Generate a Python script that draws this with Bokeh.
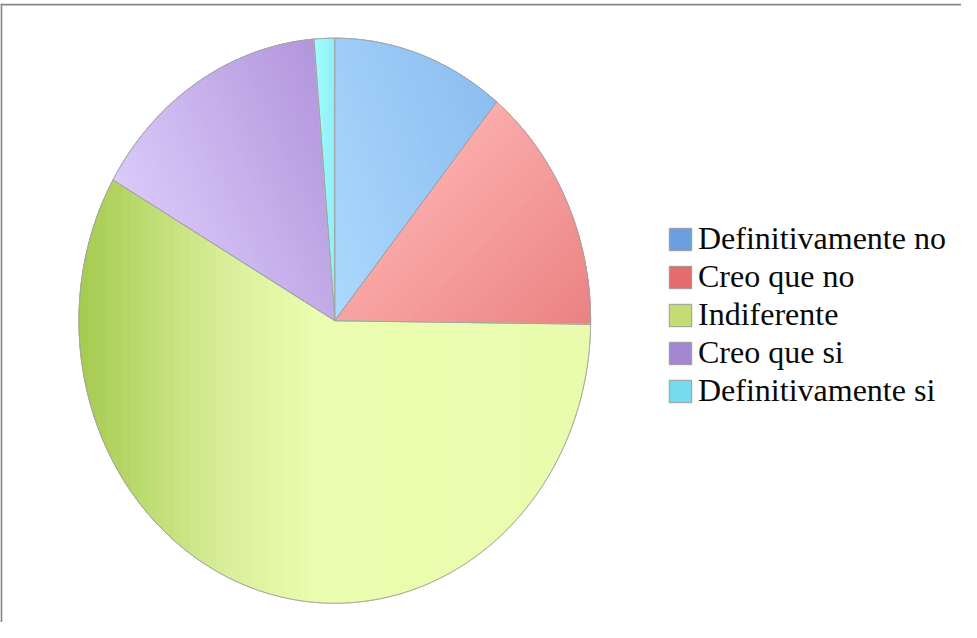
import numpy as np
from bokeh.plotting import figure
from bokeh.models import ColumnDataSource, Range1d, Legend, LegendItem, Span
from bokeh.embed import file_html
from bokeh.resources import INLINE

# ---- data ----
categories = ["Definitivamente no", "Creo que no", "Indiferente", "Creo que si", "Definitivamente si"]
values = [10.9, 14.3, 58.1, 15.4, 1.3]
legend_colors = ["#6b9fe0", "#e46c6c", "#c3dc74", "#a487d2", "#74dcec"]
grad_dirs = [(1.0, -0.35), (0.7, 0.7), (-1.0, 0.0), (1.0, -0.45), (1.0, 0.0)]
grad_stops = [
    [(0.0, "#acd9fd"), (1.0, "#8cbef0")],
    [(0.0, "#fbacac"), (1.0, "#eb8282")],
    [(0.0, "#e9fcae"), (0.54, "#ebfdb0"), (0.72, "#d8ee98"), (1.0, "#a6cb50")],
    [(0.0, "#dccafa"), (1.0, "#b296dc")],
    [(0.0, "#a6fdfd"), (1.0, "#90eef6")],
]

# ---- layout (page-pixel data space) ----
W, H = 961, 622
MBL, MBT = 0, 3
x0p, x1p = 8 + MBL, 8 + W
y0p, y1p = 8 + MBT, 8 + H
cx, cy, rx, ry = 342.3, 328.2, 255.8, 282.5


def hex2rgb(h):
    h = h.lstrip("#")
    return np.array([int(h[i:i + 2], 16) for i in (0, 2, 4)], dtype=float)


def rgb2hex(c):
    c = np.clip(np.round(c), 0, 255).astype(int)
    return "#%02x%02x%02x" % tuple(c)


def interp(stops, t):
    for (ta, ca), (tb, cb) in zip(stops[:-1], stops[1:]):
        if t <= tb:
            f = 0 if tb == ta else (t - ta) / (tb - ta)
            f = min(max(f, 0.0), 1.0)
            return rgb2hex(hex2rgb(ca) * (1 - f) + hex2rgb(cb) * f)
    return stops[-1][1]


def clip(poly, nx, ny, c):
    out = []
    n = len(poly)
    for i in range(n):
        P, Q = poly[i], poly[(i + 1) % n]
        fp = nx * P[0] + ny * P[1] - c
        fq = nx * Q[0] + ny * Q[1] - c
        if fp >= 0:
            out.append(P)
        if (fp >= 0) != (fq >= 0):
            t = fp / (fp - fq)
            out.append((P[0] + t * (Q[0] - P[0]), P[1] + t * (Q[1] - P[1])))
    return out


fr = np.array(values, dtype=float) / sum(values)
ends = np.cumsum(fr) * 2 * np.pi
starts = ends - fr * 2 * np.pi

sl_xs, sl_ys = [], []
for a0, a1 in zip(starts, ends):
    n = max(int(np.degrees(a1 - a0) * 2), 2)
    th = np.linspace(a0, a1, n + 1)
    sl_xs.append([cx] + list(cx + rx * np.sin(th)))
    sl_ys.append([cy] + list(cy - ry * np.cos(th)))

b_xs, b_ys, b_cols = [], [], []
NB = 60
for i in range(len(values)):
    poly = list(zip(sl_xs[i], sl_ys[i]))
    dx, dy = grad_dirs[i]
    norm = np.hypot(dx, dy)
    dx, dy = dx / norm, dy / norm
    proj = [dx * x + dy * y for x, y in poly]
    smin, smax = min(proj), max(proj)
    edges = np.linspace(smin - 0.01, smax + 0.01, NB + 1)
    for k in range(NB):
        piece = clip(poly, dx, dy, edges[k])
        if len(piece) < 3:
            continue
        piece = clip(piece, -dx, -dy, -edges[k + 1])
        if len(piece) < 3:
            continue
        t = ((edges[k] + edges[k + 1]) / 2 - smin) / (smax - smin)
        b_xs.append([p[0] for p in piece])
        b_ys.append([p[1] for p in piece])
        b_cols.append(interp(grad_stops[i], t))

p = figure(width=W, height=H, output_backend="svg", toolbar_location=None,
           x_range=Range1d(x0p, x1p), y_range=Range1d(y1p, y0p),
           x_axis_type=None, y_axis_type=None,
           min_border_left=MBL, min_border_right=0, min_border_top=MBT, min_border_bottom=0)
p.grid.visible = False
p.outline_line_color = None
p.background_fill_color = "white"
p.border_fill_color = "white"

src = ColumnDataSource(dict(xs=sl_xs, ys=sl_ys, color=legend_colors, label=categories))
slices = p.patches("xs", "ys", source=src, fill_color="color", line_color="#9c9c9c", line_width=1)
p.patches(b_xs, b_ys, fill_color=b_cols, line_color=b_cols, line_width=1)
p.patches("xs", "ys", source=src, fill_color=None, line_color="#a4a4a4", line_width=1)

p.add_layout(Span(location=8.8, dimension="height", line_color="#8a8a8a", line_width=2))
p.add_layout(Span(location=12, dimension="width", line_color="#8a8a8a", line_width=2))

items = [LegendItem(label=categories[i], renderers=[slices], index=i) for i in range(len(categories))]
legend = Legend(items=items, location=(666, 213), orientation="vertical",
                label_text_font="Liberation Serif", label_text_font_size="32px",
                label_text_color="#0a0a0a", glyph_width=28, glyph_height=28,
                label_standoff=4, spacing=1, padding=0, margin=0,
                border_line_color=None, background_fill_alpha=0)
p.add_layout(legend)

open("out.html", "w").write(file_html(p, INLINE))
